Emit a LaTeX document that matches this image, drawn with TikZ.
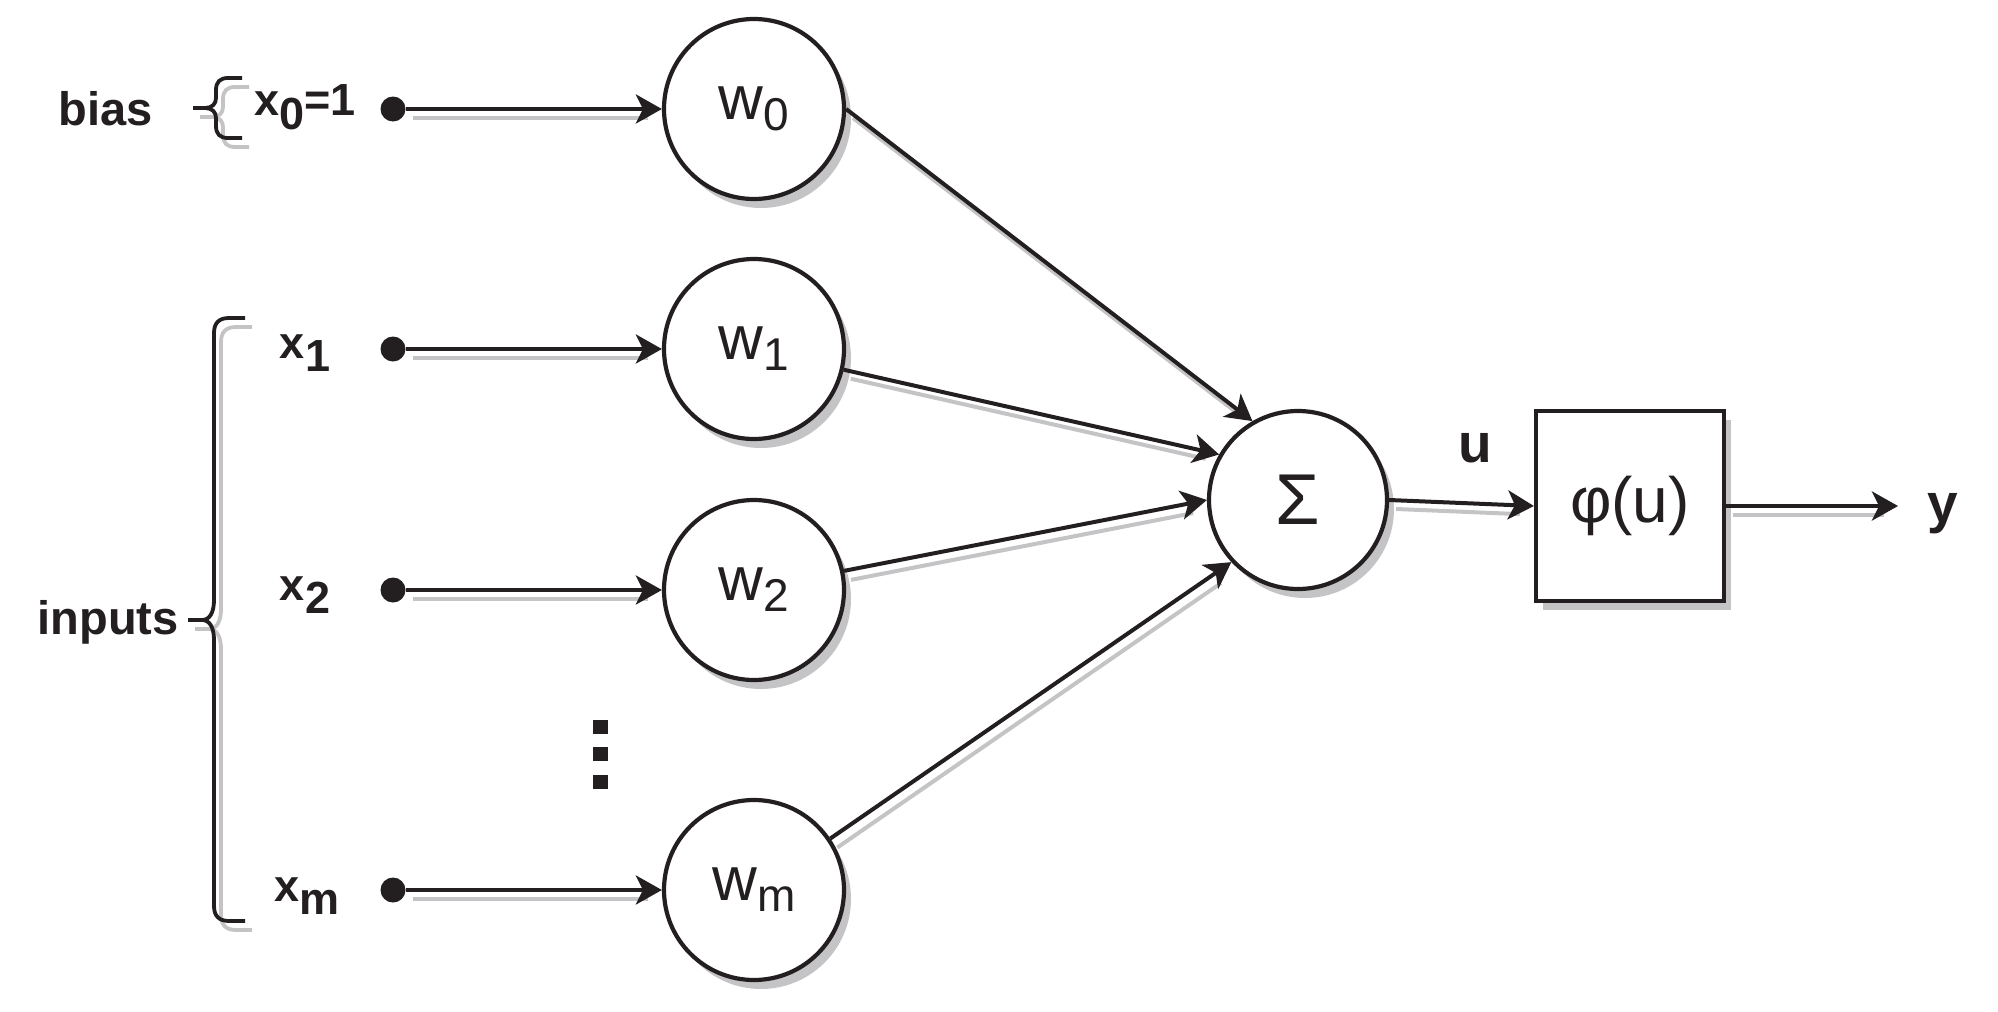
\documentclass[tikz,border=0pt]{standalone}
\usepackage{fontspec}
\setmainfont{Liberation Sans}
\usetikzlibrary{arrows.meta,shadows}
\definecolor{ink}{RGB}{35,31,32}
\definecolor{shd}{RGB}{196,196,198}
\newcommand{\lowsub}[2]{\raisebox{-#1pt}{#2}}
\tikzset{
  shadowed/.style={drop shadow={shadow xshift=7pt,shadow yshift=-9pt,fill=shd,opacity=1}},
  wnode/.style={circle,draw=ink,line width=4.2pt,fill=white,minimum size=180pt,inner sep=0pt,
    font=\fontsize{62}{62}\selectfont,text=ink,shadowed},
  signode/.style={circle,draw=ink,line width=4.2pt,fill=white,minimum size=178pt,inner sep=0pt,
    font=\fontsize{72}{72}\selectfont,text=ink,shadowed},
  boxnode/.style={rectangle,draw=ink,line width=4.2pt,fill=white,minimum width=188pt,minimum height=190pt,
    inner sep=0pt,font=\fontsize{64}{64}\selectfont,text=ink,shadowed},
  dotnode/.style={circle,fill=ink,minimum size=25pt,inner sep=0pt},
  lbl/.style={font=\fontsize{45}{45}\selectfont\bfseries,text=ink,inner sep=0pt},
  biglbl/.style={font=\fontsize{47}{47}\selectfont\bfseries,text=ink,inner sep=0pt},
  outlbl/.style={font=\fontsize{55}{55}\selectfont\bfseries,text=ink,inner sep=0pt},
  arr/.style={draw=ink,line width=4pt,-{Stealth[length=26pt,width=29pt,inset=7pt]},
    preaction={draw=shd,line width=4pt,-,shorten >=21pt,transform canvas={shift={(7pt,-9pt)}}}},
  bracepath/.style={draw=ink,line width=3.8pt,
    preaction={draw=shd,line width=3.8pt,transform canvas={shift={(7pt,-9pt)}}}}
}
\begin{document}
\begin{tikzpicture}[x=1pt,y=-1pt]
\useasboundingbox (0,0) rectangle (1998,1012);
% braces
\draw[bracepath] (242,78) -- (228,78) .. controls (220,78) and (216,82) .. (216,90) -- (216,98)
  .. controls (216,104) and (212,108) .. (205,108) -- (193,108);
\draw[bracepath] (205,108) .. controls (212,108) and (216,112) .. (216,118) -- (216,126)
  .. controls (216,134) and (220,138) .. (228,138) -- (242,138);
\draw[bracepath] (245,318) -- (229,318) .. controls (219,318) and (214,323) .. (214,333) -- (214,600)
  .. controls (214,612) and (210,620) .. (202,620) -- (188,620);
\draw[bracepath] (202,620) .. controls (210,620) and (214,628) .. (214,640) -- (214,906)
  .. controls (214,916) and (219,921) .. (229,921) -- (245,921);
% labels
\node[biglbl,anchor=base] (bias) at (106,125) {bias};
\node[biglbl,anchor=base] (inputs) at (108,634) {inputs};
\node[lbl,anchor=base] (x0) at (305,115) {x\lowsub{14}{0}=1};
\node[lbl,anchor=base] (x1) at (305,358) {x\lowsub{13}{1}};
\node[lbl,anchor=base] (x2) at (305,600) {x\lowsub{13}{2}};
\node[lbl,anchor=base] (xm) at (307,901) {x\lowsub{13}{m}};
% input dots
\node[dotnode] (d0) at (393,109) {};
\node[dotnode] (d1) at (393,349) {};
\node[dotnode] (d2) at (393,590) {};
\node[dotnode] (dm) at (393,890) {};
% weight nodes
\node[wnode] (w0) at (754,109) {w\lowsub{11}{\fontsize{46}{46}\selectfont 0}};
\node[wnode] (w1) at (754,349) {w\lowsub{11}{\fontsize{46}{46}\selectfont 1}};
\node[wnode] (w2) at (754,590) {w\lowsub{11}{\fontsize{46}{46}\selectfont 2}};
\node[wnode] (wm) at (754,890) {w\lowsub{11}{\fontsize{46}{46}\selectfont m}};
% vertical ellipsis
\fill[ink] (593,720) rectangle (608,734);
\fill[ink] (593,747) rectangle (608,761);
\fill[ink] (593,775) rectangle (608,789);
% sum and activation
\node[signode] (sig) at (1298,500) {Σ};
\node[boxnode] (phi) at (1630,506) {φ(u)};
\node[outlbl,anchor=base] (u) at (1475,462) {u};
\node[outlbl,anchor=base] (y) at (1943,522) {y};
\coordinate (yend) at (1898,506);
% input arrows
\draw[arr] (d0) -- (w0);
\draw[arr] (d1) -- (w1);
\draw[arr] (d2) -- (w2);
\draw[arr] (dm) -- (wm);
% weights to sum
\draw[arr] (w0.0) -- (sig.120);
\draw[arr] (w1.-13) -- (sig.150);
\draw[arr] (w2.12) -- (sig.180);
\draw[arr] (wm.34) -- (sig.223);
% output
\draw[arr] (sig.east) -- (phi.west);
\draw[arr] (phi.east) -- (yend);
\end{tikzpicture}
\end{document}
